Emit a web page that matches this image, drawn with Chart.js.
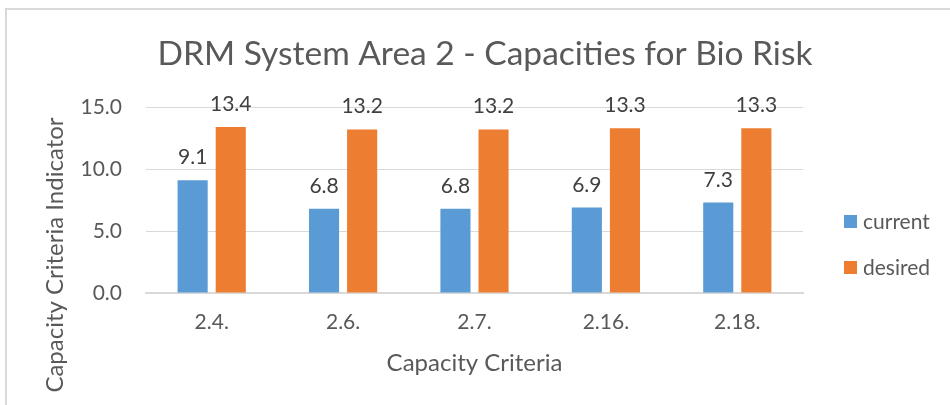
<!DOCTYPE html>
<html>
<head>
<meta charset="utf-8">
<script src="https://cdn.jsdelivr.net/npm/chart.js@4/dist/chart.umd.min.js"></script>
<style>
  html, body { margin: 0; padding: 0; background: #fff; }
  #wrap { position: relative; width: 950px; height: 405px; overflow: hidden; }
  #frame { position: absolute; left: 5px; top: 8px; width: 1000px; height: 500px;
           border-left: 2px solid #d9d9d9; border-top: 2px solid #d9d9d9; }
  #chart { position: absolute; left: 0; top: 0; }
</style>
</head>
<body>
<div id="wrap">
  <div id="frame"></div>
  <canvas id="chart" width="950" height="405"></canvas>
</div>
<script>
// chart data
const categories = ['2.4.', '2.6.', '2.7.', '2.16.', '2.18.'];
const currentValues = [9.1, 6.8, 6.8, 6.9, 7.3];
const desiredValues = [13.4, 13.2, 13.2, 13.3, 13.3];
const yTicks = [0, 5, 10, 15];

const FONT = 'Lato';
const TEXT = '#595959';

// value labels above each bar
const barLabels = {
  id: 'barLabels',
  afterDatasetsDraw(chart) {
    const ctx = chart.ctx;
    ctx.save();
    ctx.font = '21px ' + FONT;
    ctx.fillStyle = '#404040';
    ctx.textAlign = 'center';
    ctx.textBaseline = 'alphabetic';
    chart.data.datasets.forEach((ds, i) => {
      chart.getDatasetMeta(i).data.forEach((bar, j) => {
        ctx.fillText(ds.data[j].toFixed(1), bar.x, bar.y - 16);
      });
    });
    ctx.restore();
  }
};

// y axis title and legend, placed like the original
const extras = {
  id: 'extras',
  afterDraw(chart) {
    const ctx = chart.ctx;
    const area = chart.chartArea;
    ctx.save();
    ctx.translate(55, 255);
    ctx.rotate(-Math.PI / 2);
    ctx.font = '24px ' + FONT;
    ctx.fillStyle = TEXT;
    ctx.textAlign = 'center';
    ctx.textBaseline = 'middle';
    ctx.fillText('Capacity Criteria Indicator', 0, 0);
    ctx.restore();

    ctx.save();
    ctx.font = '21px ' + FONT;
    ctx.textBaseline = 'middle';
    ctx.textAlign = 'left';
    const x = area.right + 41;
    chart.data.datasets.forEach((ds, i) => {
      const y = 222 + i * 46;
      ctx.fillStyle = ds.backgroundColor;
      ctx.fillRect(x, y - 7, 13, 13);
      ctx.fillStyle = TEXT;
      ctx.fillText(ds.label, x + 19, y);
    });
    ctx.restore();
  }
};

const chart = new Chart(document.getElementById('chart'), {
  type: 'bar',
  data: {
    labels: categories,
    datasets: [{
      label: 'current',
      data: currentValues,
      backgroundColor: '#5B9BD5',
      categoryPercentage: 0.58,
      barPercentage: 0.79
    }, {
      label: 'desired',
      data: desiredValues,
      backgroundColor: '#ED7D31',
      categoryPercentage: 0.58,
      barPercentage: 0.79
    }]
  },
  options: {
    responsive: false,
    animation: false,
    layout: { padding: { left: 20, right: 0, top: 0, bottom: 0 } },
    plugins: {
      title: {
        display: true,
        text: 'DRM System Area 2 - Capacities for Bio Risk',
        color: TEXT,
        font: { family: FONT, size: 33.5, weight: 'normal' },
        padding: { top: 34, bottom: 33 }
      },
      legend: { display: false },
      tooltip: { enabled: false }
    },
    scales: {
      x: {
        grid: { display: false },
        border: { color: '#d9d9d9', width: 2 },
        ticks: { color: TEXT, font: { family: FONT, size: 21 }, padding: 9 },
        title: {
          display: true,
          text: 'Capacity Criteria',
          color: TEXT,
          font: { family: FONT, size: 24 },
          padding: { top: 0, bottom: 27 }
        },
        afterFit(scale) { scale.height = 112; }
      },
      y: {
        min: 0,
        max: 15,
        afterBuildTicks(scale) { scale.ticks = yTicks.map(v => ({ value: v })); },
        grid: { color: '#d9d9d9', lineWidth: 1, drawTicks: false },
        border: { display: false },
        ticks: {
          color: TEXT,
          font: { family: FONT, size: 21 },
          padding: 24,
          callback: v => v.toFixed(1)
        },
        afterFit(scale) { scale.width = 126; }
      },
      // empty axis on the right keeps room for the legend
      legendSpace: {
        type: 'linear',
        position: 'right',
        grid: { display: false },
        border: { display: false },
        ticks: { display: false },
        afterFit(scale) { scale.width = 147; }
      }
    }
  },
  plugins: [barLabels, extras]
});
</script>
</body>
</html>
